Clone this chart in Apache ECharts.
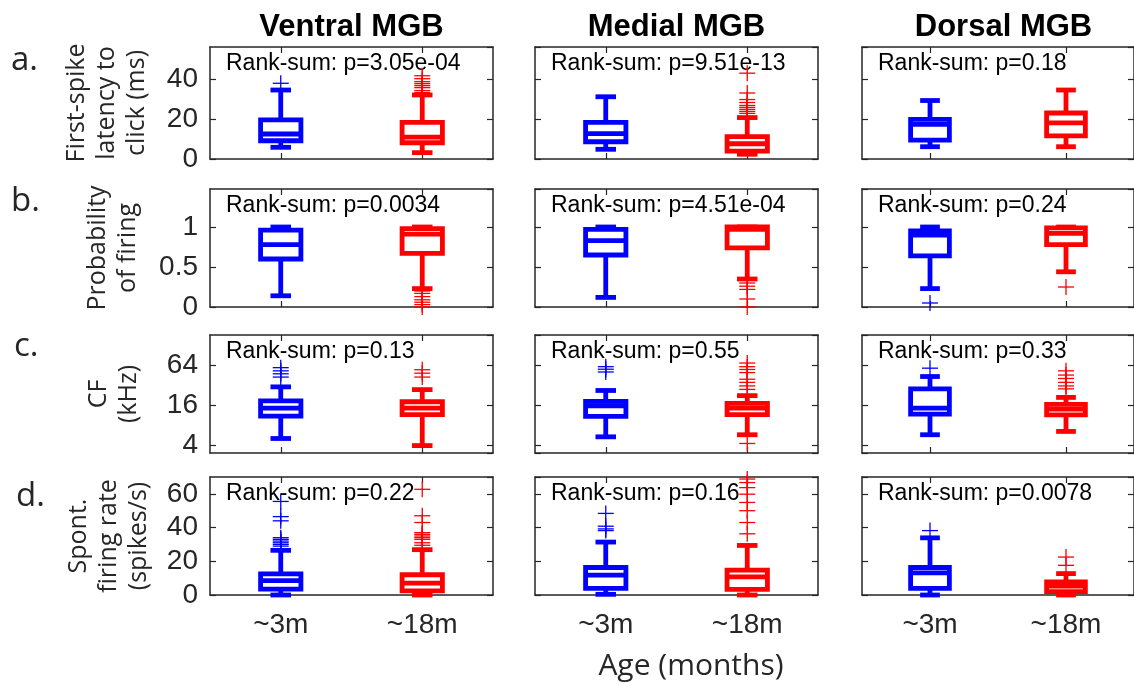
<!DOCTYPE html>
<html><head><meta charset="utf-8">
<script src="https://cdn.jsdelivr.net/npm/echarts@6/dist/echarts.min.js"></script>
<style>html,body{margin:0;padding:0;background:#fff}#c{width:1134px;height:684px}</style>
</head><body><div id="c"></div>
<script>
// ---------- data ----------
const regions = ['Ventral MGB', 'Medial MGB', 'Dorsal MGB'];
const ageLabels = ['~3m', '~18m'];
const rowLetters = ['a.', 'b.', 'c.', 'd.'];
const measureNames = ['First-spike\nlatency to\nclick (ms)', 'Probability\nof firing', 'CF\n(kHz)', 'Spont.\nfiring rate\n(spikes/s)'];

const latencyP = ['3.05e-04', '9.51e-13', '0.18'];
const probP = ['0.0034', '4.51e-04', '0.24'];
const cfP = ['0.13', '0.55', '0.33'];
const spontP = ['0.22', '0.16', '0.0078'];

// box stats per region: [~3m, ~18m], each [min, q1, median, q3, max]
const latencyBoxes = [
  [[5.9, 9.2, 12.6, 19.7, 34.8], [3.2, 8.2, 11.0, 18.5, 32.3]],
  [[4.9, 8.7, 12.8, 18.5, 31.4], [2.4, 4.0, 7.7, 11.3, 20.9]],
  [[6.2, 9.5, 17.5, 20.0, 29.5], [6.2, 11.7, 18.2, 23.2, 34.8]]
];
const latencyOutliers = [
  [[38.2], [42, 40.5, 39, 38, 37, 36, 34.5, 33.5]],
  [[], [43.3, 33.3, 30, 28.5, 27, 26, 25, 24, 23]],
  [[], []]
];
const probBoxes = [
  [[0.14, 0.60, 0.78, 0.96, 1.0], [0.23, 0.67, 0.91, 0.98, 1.0]],
  [[0.12, 0.65, 0.83, 0.97, 1.0], [0.35, 0.74, 0.97, 1.0, 1.0]],
  [[0.23, 0.64, 0.90, 0.95, 1.0], [0.44, 0.78, 0.92, 0.99, 1.0]]
];
const probOutliers = [
  [[], [0.2, 0.17, 0.13, 0.09, 0.06, 0.03, 0.0]],
  [[], [0.3, 0.26, 0.22, 0.1, 0.0]],
  [[0.05], [0.25]]
];
const cfBoxes = [
  [[5.1, 11.0, 14.5, 18.5, 30.0], [4.0, 11.6, 14.5, 18.0, 27.3]],
  [[5.4, 10.9, 15.7, 18.2, 26.5], [5.8, 11.6, 14.5, 17.0, 22.2]],
  [[5.8, 11.8, 14.5, 28.0, 42.8], [6.5, 11.5, 14.0, 16.5, 20.9]]
];
const cfOutliers = [
  [[58, 52, 47, 42], [54, 48, 42]],
  [[60, 55, 50], [68, 60, 54.5, 49, 39, 35, 31, 27.5, 4.3]],
  [[57], [52, 45, 40, 35, 31, 28]]
];
const spontBoxes = [
  [[0, 3.5, 8.5, 12.5, 26.5], [0, 2.5, 7.0, 12.0, 26.9]],
  [[0.4, 3.9, 11.8, 16.3, 31.4], [0, 3.3, 10.8, 14.7, 29.4]],
  [[0, 3.9, 13.1, 16.3, 33.9], [0, 2.0, 5.3, 7.8, 12.7]]
];
const spontOutliers = [
  [[55.5, 46.5, 44, 34, 33, 32, 31, 30, 29], [62.7, 47, 43, 37, 36, 35, 34, 33, 31, 29.5]],
  [[48.4, 40.8, 39.2, 38.2], [68.8, 66.7, 63.7, 59.8, 54.9, 50, 43, 36.3]],
  [[38.2], [22.5, 17.6]]
];

// ---------- layout / style ----------
const rowsP = [latencyP, probP, cfP, spontP];
const rowsBoxes = [latencyBoxes, probBoxes, cfBoxes, spontBoxes];
const rowsOut = [latencyOutliers, probOutliers, cfOutliers, spontOutliers];
const rowScales = [
  {type: 'value', min: 0, max: 56.5, interval: 20},
  {type: 'value', min: 0, max: 1.475, interval: 0.5},
  {type: 'log', logBase: 4, min: 3.1, max: 178},
  {type: 'value', min: 0, max: 70, interval: 20}
];
const colLeft = [210, 535, 862];
const colWidth = 283;
const rowTop = [47, 189, 335, 477];
const rowHeight = [112, 118, 118, 118];
const nameGaps = [58, 67, 66, 56];
const letterPos = [[11, 61], [11, 202], [14, 347], [16, 497]];
const groupColors = ['#0000FF', '#FF0000'];
const ink = '#262626';

const grid = [], xAxis = [], yAxis = [], series = [], graphic = [];

function renderBox(params, api) {
  const cat = api.value(0);
  const lo = api.coord([cat, api.value(1)]);
  const q1 = api.coord([cat, api.value(2)]);
  const md = api.coord([cat, api.value(3)]);
  const q3 = api.coord([cat, api.value(4)]);
  const hi = api.coord([cat, api.value(5)]);
  const band = api.size([1, 0])[0];
  const bw = band * 0.285, cw = band * 0.145;
  const x = md[0];
  const col = groupColors[cat];
  const s = {stroke: col, lineWidth: 4.8, fill: null};
  return {type: 'group', children: [
    {type: 'line', shape: {x1: x, y1: q3[1], x2: x, y2: hi[1]}, style: s},
    {type: 'line', shape: {x1: x, y1: q1[1], x2: x, y2: lo[1]}, style: s},
    {type: 'line', shape: {x1: x - cw / 2, y1: hi[1], x2: x + cw / 2, y2: hi[1]}, style: s},
    {type: 'line', shape: {x1: x - cw / 2, y1: lo[1], x2: x + cw / 2, y2: lo[1]}, style: s},
    {type: 'rect', shape: {x: x - bw / 2, y: q3[1], width: bw, height: q1[1] - q3[1]}, style: {stroke: col, lineWidth: 4.8, fill: '#fff'}},
    {type: 'line', shape: {x1: x - bw / 2, y1: md[1], x2: x + bw / 2, y2: md[1]}, style: s}
  ]};
}
function renderPlus(params, api) {
  const cat = api.value(0);
  const p = api.coord([cat, api.value(1)]);
  const h = 8;
  const s = {stroke: groupColors[cat], lineWidth: 1.3, fill: null};
  return {type: 'group', children: [
    {type: 'line', shape: {x1: p[0] - h, y1: p[1], x2: p[0] + h, y2: p[1]}, style: s},
    {type: 'line', shape: {x1: p[0], y1: p[1] - h, x2: p[0], y2: p[1] + h}, style: s}
  ]};
}

const tickStyle = {show: true, inside: true, length: 6, lineStyle: {color: ink, width: 1.2}};
const lineStyle = {show: true, onZero: false, lineStyle: {color: ink, width: 1.5}};

let gi = 0;
for (let r = 0; r < 4; r++) {
  for (let c = 0; c < 3; c++) {
    grid.push({left: colLeft[c], top: rowTop[r], width: colWidth, height: rowHeight[r], containLabel: false});
    const bx = xAxis.length;
    xAxis.push({
      gridIndex: gi, type: 'category', data: ageLabels, boundaryGap: true, position: 'bottom',
      axisLine: lineStyle, axisTick: Object.assign({alignWithLabel: true}, tickStyle),
      axisLabel: {show: r === 3, margin: 16, fontFamily: 'Liberation Sans', fontSize: 28, color: ink},
      splitLine: {show: false}
    });
    xAxis.push({
      gridIndex: gi, type: 'category', data: ageLabels, boundaryGap: true, position: 'top',
      axisLine: lineStyle, axisTick: Object.assign({alignWithLabel: true}, tickStyle),
      axisLabel: {show: false}, splitLine: {show: false}
    });
    const ly = yAxis.length;
    const sc = rowScales[r];
    yAxis.push(Object.assign({}, sc, {
      gridIndex: gi, position: 'left',
      axisLine: lineStyle, axisTick: tickStyle, splitLine: {show: false},
      axisLabel: {show: c === 0, showMinLabel: sc.type === 'log' ? false : true, showMaxLabel: false, margin: 12,
        fontFamily: 'Liberation Sans', fontSize: 28, color: ink},
      name: c === 0 ? measureNames[r] : '', nameLocation: 'middle', nameRotate: 90, nameGap: nameGaps[r],
      nameTextStyle: {fontFamily: 'Open Sans', fontSize: 25, lineHeight: 30, color: ink}
    }));
    yAxis.push(Object.assign({}, sc, {
      gridIndex: gi, position: 'right',
      axisLine: lineStyle, axisTick: tickStyle, splitLine: {show: false}, axisLabel: {show: false}
    }));
    const boxes = rowsBoxes[r][c];
    series.push({
      type: 'custom', xAxisIndex: bx, yAxisIndex: ly, renderItem: renderBox, clip: false,
      encode: {x: 0, y: [1, 2, 3, 4, 5]},
      data: boxes.map((b, k) => [k].concat(b))
    });
    const outs = [];
    rowsOut[r][c].forEach((arr, k) => arr.forEach(v => outs.push([k, v])));
    series.push({
      type: 'custom', xAxisIndex: bx, yAxisIndex: ly, renderItem: renderPlus, clip: false,
      encode: {x: 0, y: 1}, data: outs
    });
    graphic.push({
      type: 'text', left: colLeft[c] + 16, top: rowTop[r] + 5,
      style: {text: 'Rank-sum: p=' + rowsP[r][c], fontFamily: 'Liberation Sans', fontSize: 23, fill: '#000'}
    });
    gi++;
  }
}
regions.forEach((t, c) => {
  graphic.push({
    type: 'text', x: colLeft[c] + colWidth / 2, y: 27,
    style: {text: t, fontFamily: 'Liberation Sans', fontWeight: 'bold', fontSize: 31, fill: '#000', align: 'center', verticalAlign: 'middle'}
  });
});
rowLetters.forEach((t, r) => {
  graphic.push({
    type: 'text', x: letterPos[r][0], y: letterPos[r][1],
    style: {text: t, fontFamily: 'Open Sans', fontSize: 33, fill: ink, align: 'left', verticalAlign: 'middle'}
  });
});
graphic.push({
  type: 'text', x: 691, y: 666,
  style: {text: 'Age (months)', fontFamily: 'Open Sans', fontSize: 30, fill: ink, align: 'center', verticalAlign: 'middle'}
});

const chart = echarts.init(document.getElementById('c'), null, {renderer: 'canvas'});
chart.setOption({
  backgroundColor: '#fff', animation: false,
  grid, xAxis, yAxis, series, graphic
});
</script></body></html>
